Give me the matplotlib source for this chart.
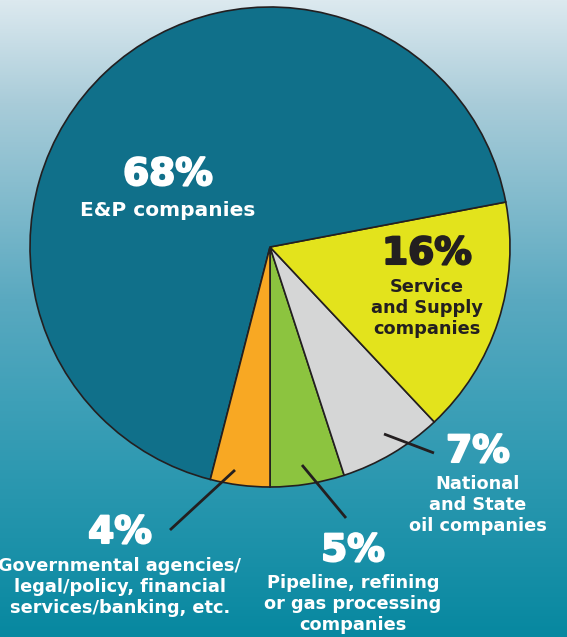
import numpy as np
import matplotlib
matplotlib.use("Agg")
import matplotlib.pyplot as plt
import matplotlib.patheffects as pe
from matplotlib.colors import LinearSegmentedColormap

# shares, counter-clockwise starting from straight down
shares = [5, 7, 16, 68, 4]
pcts = ['5%', '7%', '16%', '68%', '4%']
names = ['Pipeline, refining\nor gas processing\ncompanies',
         'National\nand State\noil companies',
         'Service\nand Supply\ncompanies',
         'E&P companies',
         'Governmental agencies/\nlegal/policy, financial\nservices/banking, etc.']
colors = ['#8cc43f', '#d5d6d6', '#e3e31c', '#10708a', '#f8a823']

plt.rcParams['font.family'] = ['DejaVu Sans']

W, H = 567, 637
fig = plt.figure(figsize=(W / 100, H / 100), dpi=100)

# background gradient
bg = fig.add_axes([0, 0, 1, 1])
cmap = LinearSegmentedColormap.from_list('bg', [
    (0.0, '#dce9ef'), (0.16, '#a9ccd9'), (0.47, '#5aa9c0'),
    (0.63, '#3ea0b8'), (1.0, '#0788a0')])
grad = np.linspace(0, 1, 256).reshape(-1, 1)
bg.imshow(grad, aspect='auto', cmap=cmap, extent=[0, W, H, 0])
bg.set_axis_off()

ax = fig.add_axes([0, 0, 1, 1])
ax.set_xlim(0, W)
ax.set_ylim(0, H)
ax.set_aspect('equal')
ax.set_axis_off()
ax.patch.set_alpha(0)

cx, cy, r = 270, H - 247, 240
ax.pie(shares, colors=colors, startangle=-90, counterclock=True,
       center=(cx, cy), radius=r, frame=True,
       wedgeprops=dict(edgecolor='#231f20', linewidth=1.2))
ax.set_xlim(0, W)
ax.set_ylim(0, H)
ax.set_axis_off()

dark = '#231f20'
# label layout: (pct x, pct y, name y, name size, colour) in pixel coords from top
layout = [(353, 551, 604, 12.8, 'white'),
          (478, 452, 505, 12.8, 'white'),
          (427, 254, 308, 12.8, dark),
          (168, 175, 211, 14.5, 'white'),
          (120, 533, 587, 12.8, 'white')]
for p, n, (x, yp, yn, fs, c) in zip(pcts, names, layout):
    ax.text(x, H - yp, p, ha='center', va='center', fontsize=27,
            fontweight='bold', color=c,
            path_effects=[pe.withStroke(linewidth=1.5, foreground=c)])
    ax.text(x, H - yn, n, ha='center', va='center', fontsize=fs,
            fontweight='bold', color=c, linespacing=1.2)

# leader lines
leaders = [((302, 465), (346, 518)),
           ((384, 434), (434, 453)),
           ((235, 470), (170, 530))]
for (x0, y0), (x1, y1) in leaders:
    ax.plot([x0, x1], [H - y0, H - y1], color=dark, lw=2, solid_capstyle='butt')

fig.savefig('out.png', dpi=100)
